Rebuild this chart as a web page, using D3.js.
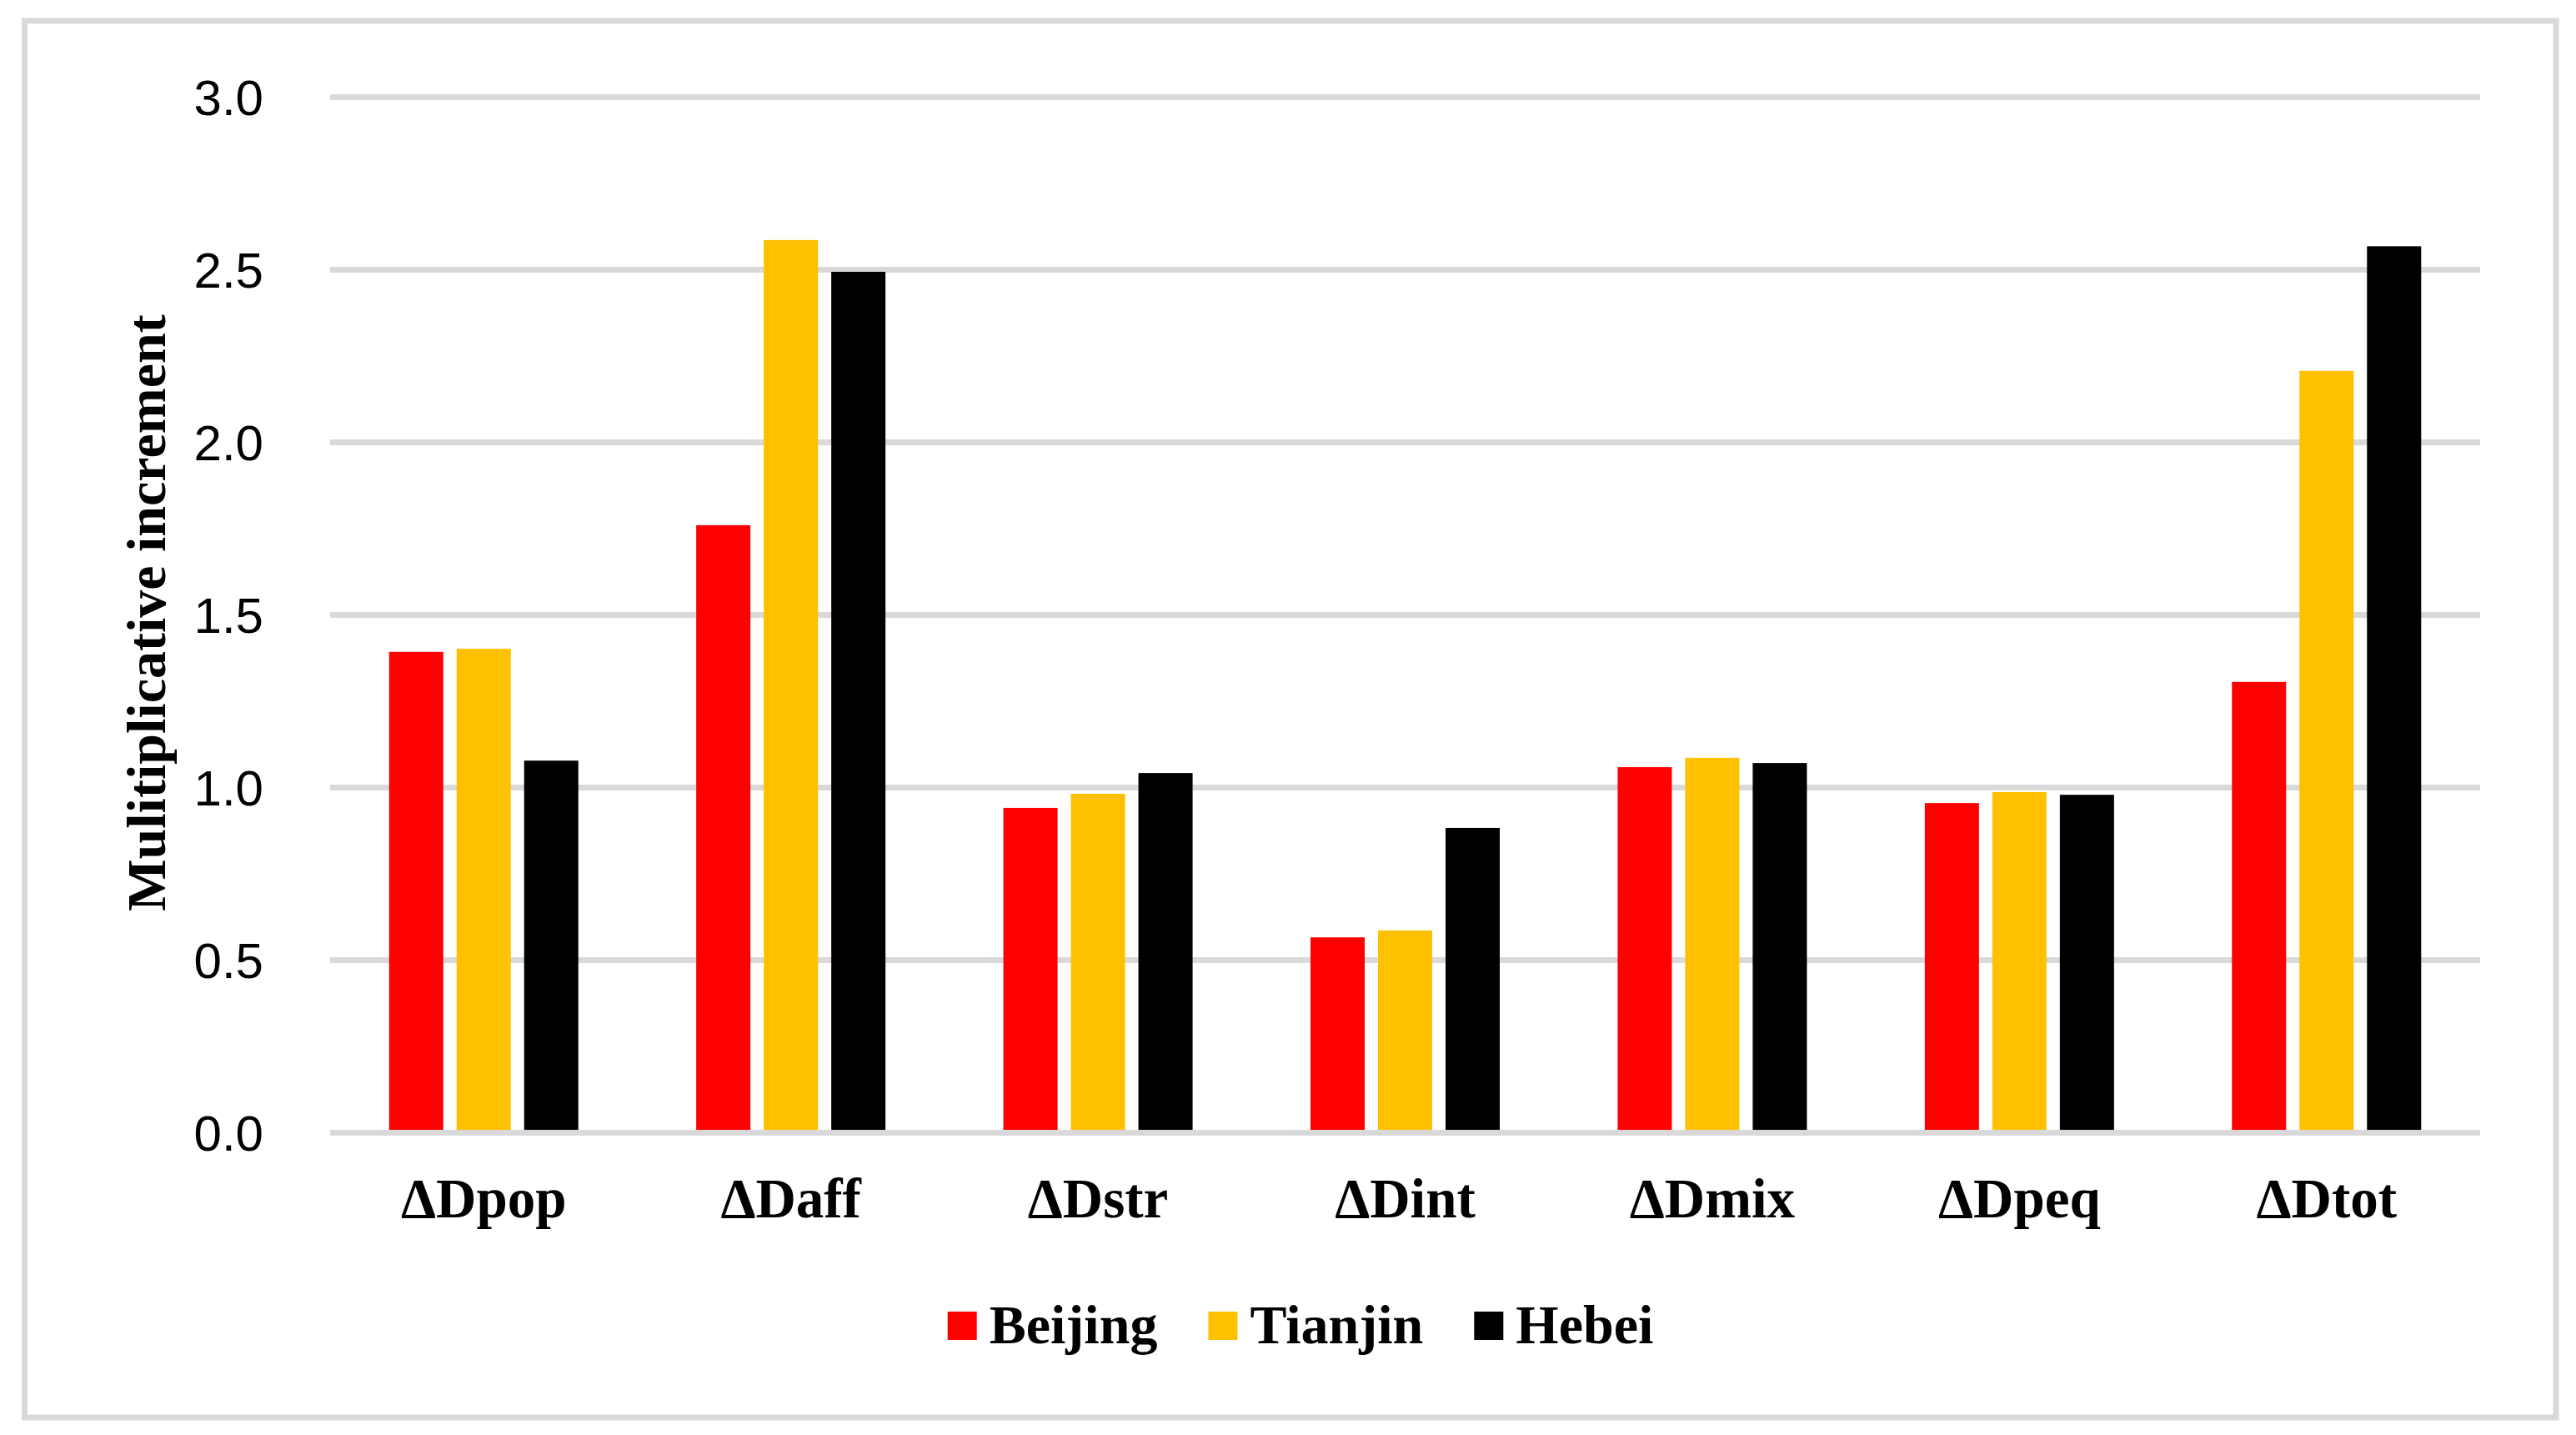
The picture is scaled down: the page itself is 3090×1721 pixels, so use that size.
<!DOCTYPE html>
<html>
<head>
<meta charset="utf-8">
<script src="https://cdn.jsdelivr.net/npm/d3@7/dist/d3.min.js"></script>
<style>
  html, body { margin: 0; padding: 0; background: #ffffff; }
  svg { display: block; }
</style>
</head>
<body>
<svg id="chart" width="3090" height="1721"></svg>
<script>
// ---- data ----
const categories = ["\u0394Dpop", "\u0394Daff", "\u0394Dstr", "\u0394Dint", "\u0394Dmix", "\u0394Dpeq", "\u0394Dtot"];
const seriesNames = ["Beijing", "Tianjin", "Hebei"];
const beijing = [1.393, 1.760, 0.941, 0.566, 1.059, 0.955, 1.306];
const tianjin = [1.402, 2.586, 0.982, 0.586, 1.086, 0.987, 2.207];
const hebei   = [1.078, 2.494, 1.042, 0.883, 1.071, 0.979, 2.568];
const seriesColors = ["#FF0000", "#FFC000", "#000000"];
const yTicks = [0, 0.5, 1.0, 1.5, 2.0, 2.5, 3.0];
const yTitle = "Mulitiplicative increment";

// ---- layout ----
const W = 3090, H = 1721;
const plot = { left: 396, right: 2975, top: 116.5, bottom: 1358.5 };
const gridColor = "#d9d9d9";
const serifFont = "'Liberation Serif', 'Times New Roman', serif";
const sansFont = "'Liberation Sans', Arial, sans-serif";

const svg = d3.select("#chart");

svg.append("rect").attr("x", 0).attr("y", 0).attr("width", W).attr("height", H).attr("fill", "#ffffff");

// outer frame
svg.append("rect")
  .attr("x", 29.5).attr("y", 25)
  .attr("width", 3036.5).attr("height", 1675)
  .attr("fill", "none").attr("stroke", gridColor).attr("stroke-width", 7);

const y = d3.scaleLinear().domain([0, 3]).range([plot.bottom, plot.top]);
const x0 = d3.scaleBand().domain(categories).range([plot.left, plot.right]).paddingInner(0).paddingOuter(0);
const groupW = 227;
const x1 = d3.scaleBand().domain(seriesNames).range([0, groupW]).paddingInner(16 / 81).paddingOuter(0);

// gridlines (behind bars), except zero line drawn on top later
const grid = svg.append("g");
grid.selectAll("line").data(yTicks.filter(d => d !== 0)).join("line")
  .attr("x1", plot.left).attr("x2", plot.right)
  .attr("y1", d => y(d)).attr("y2", d => y(d))
  .attr("stroke", gridColor).attr("stroke-width", 7);

// y axis labels
const yAxis = d3.axisLeft(y).tickValues(yTicks).tickFormat(d3.format(".1f")).tickSize(0).tickPadding(0);
const yg = svg.append("g").attr("transform", `translate(316,0)`).call(yAxis);
yg.select(".domain").remove();
yg.selectAll("text")
  .attr("font-family", sansFont).attr("font-size", 60).attr("fill", "#000")
  .attr("dy", "0.35em").attr("x", 0);

// bars
const data = categories.map((c, i) => ({ cat: c, vals: [beijing[i], tianjin[i], hebei[i]] }));
const groups = svg.append("g").selectAll("g").data(data).join("g")
  .attr("transform", d => `translate(${x0(d.cat) + (x0.bandwidth() - groupW) / 2},0)`);
groups.selectAll("rect").data(d => d.vals.map((v, j) => ({ name: seriesNames[j], v, color: seriesColors[j] })))
  .join("rect")
  .attr("x", d => x1(d.name))
  .attr("width", x1.bandwidth())
  .attr("y", d => y(d.v))
  .attr("height", d => y(0) - y(d.v))
  .attr("fill", d => d.color);

// zero axis line on top
svg.append("line")
  .attr("x1", plot.left).attr("x2", plot.right)
  .attr("y1", y(0)).attr("y2", y(0))
  .attr("stroke", gridColor).attr("stroke-width", 7);

// x axis labels
const xAxis = d3.axisBottom(x0).tickSize(0).tickPadding(0);
const xg = svg.append("g").attr("transform", `translate(0,1460)`).call(xAxis);
xg.select(".domain").remove();
xg.selectAll("text")
  .attr("font-family", serifFont).attr("font-weight", "bold").attr("font-size", 67)
  .attr("fill", "#000").attr("dy", 0).attr("y", 0);

// y axis title
svg.append("text")
  .attr("transform", "translate(198,735) rotate(-90)")
  .attr("text-anchor", "middle")
  .attr("font-family", serifFont).attr("font-weight", "bold").attr("font-size", 66)
  .attr("fill", "#000")
  .text(yTitle);

// legend
const legend = svg.append("g");
const sq = 35, sqGap = 15, itemGap = 61;
const items = legend.selectAll("g").data(seriesNames).join("g");
items.append("rect").attr("width", sq).attr("height", sq - 1).attr("y", 1573)
  .attr("fill", (d, i) => seriesColors[i]);
items.append("text").attr("x", sq + sqGap).attr("y", 1611)
  .attr("font-family", serifFont).attr("font-weight", "bold").attr("font-size", 66)
  .attr("fill", "#000").text(d => d);
let widths = [];
items.each(function () { widths.push(sq + sqGap + this.querySelector("text").getComputedTextLength()); });
const total = d3.sum(widths) + itemGap * (widths.length - 1);
let cx = 1560 - total / 2;
items.each(function (d, i) {
  d3.select(this).attr("transform", `translate(${cx},0)`);
  cx += widths[i] + itemGap;
});
</script>
</body>
</html>
